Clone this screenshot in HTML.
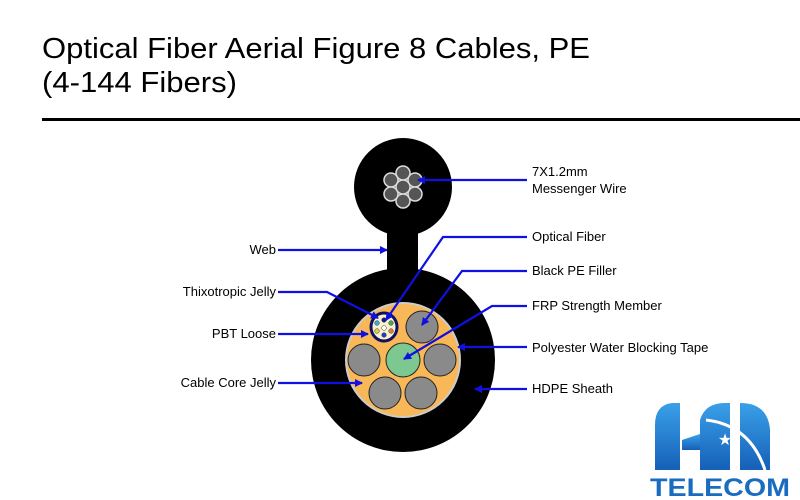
<!DOCTYPE html>
<html><head><meta charset="utf-8"><style>
html,body{margin:0;padding:0;background:#fff;width:800px;height:500px;overflow:hidden}
svg{display:block}
text{font-family:"Liberation Sans",Arial,sans-serif}
</style></head><body>
<svg width="800" height="500" viewBox="0 0 800 500" xmlns="http://www.w3.org/2000/svg">
<defs>
<marker id="a" markerWidth="8" markerHeight="8" refX="7" refY="4" orient="auto" markerUnits="userSpaceOnUse"><path d="M0,0 L8,4 L0,8 z" fill="#1010e0"/></marker>
<linearGradient id="g" x1="0" y1="0" x2="0" y2="1"><stop offset="0" stop-color="#3aa0e8"/><stop offset="1" stop-color="#1560b8"/></linearGradient>
</defs>
<text x="42" y="58" font-size="29" fill="#000" textLength="548" lengthAdjust="spacingAndGlyphs">Optical Fiber Aerial Figure 8 Cables, PE</text>
<text x="42" y="92" font-size="29" fill="#000" textLength="195" lengthAdjust="spacingAndGlyphs">(4-144 Fibers)</text>
<rect x="42" y="118" width="758" height="3" fill="#000"/>

<!-- cable -->
<circle cx="403" cy="187" r="49" fill="#000"/>
<rect x="387" y="225" width="31" height="60" fill="#000"/>
<circle cx="403" cy="360" r="92" fill="#000"/>
<g fill="#555" stroke="#ddd" stroke-width="1.5">
<circle cx="403" cy="173" r="7"/><circle cx="403" cy="201" r="7"/>
<circle cx="391" cy="180" r="7"/><circle cx="415" cy="180" r="7"/>
<circle cx="391" cy="194" r="7"/><circle cx="415" cy="194" r="7"/>
<circle cx="403" cy="187" r="7"/>
</g>
<circle cx="403" cy="360" r="57" fill="#f8b858" stroke="#ccc" stroke-width="2"/>
<g fill="#8a8a8a" stroke="#222" stroke-width="1">
<circle cx="422" cy="327" r="16"/><circle cx="440" cy="360" r="16"/>
<circle cx="421" cy="393" r="16"/><circle cx="385" cy="393" r="16"/>
<circle cx="364" cy="360" r="16"/>
</g>
<circle cx="403" cy="360" r="17" fill="#7cc890" stroke="#222" stroke-width="1"/>
<ellipse cx="384" cy="327" rx="13" ry="14" fill="#f8f0d0" stroke="#101060" stroke-width="3"/>
<g stroke="#333" stroke-width="0.5">
<circle cx="377" cy="323" r="2.3" fill="#30b0e0"/><circle cx="384" cy="320" r="2.3" fill="#1a1a80"/>
<circle cx="391" cy="323" r="2.3" fill="#40b040"/><circle cx="377" cy="331" r="2.3" fill="#e0d040"/>
<circle cx="384" cy="328" r="2.3" fill="#fff"/><circle cx="391" cy="331" r="2.3" fill="#e08030"/>
<circle cx="384" cy="335" r="2.3" fill="#1a40c0"/>
</g>

<!-- connectors -->
<g stroke="#1010e0" stroke-width="2.2" fill="none" marker-end="url(#a)">
<path d="M527,180 L418,180"/>
<path d="M527,237 L443,237 L386,320"/>
<path d="M527,271 L462,271 L422,325"/>
<path d="M527,306 L492,306 L404,359"/>
<path d="M527,347 L458,347"/>
<path d="M527,389 L475,389"/>
<path d="M278,250 L387,250"/>
<path d="M278,292 L327,292 L378,318"/>
<path d="M278,334 L368,334"/>
<path d="M278,383 L362,383"/>
</g>

<g font-size="13" fill="#000">
<text x="532" y="176">7X1.2mm</text>
<text x="532" y="193">Messenger Wire</text>
<text x="532" y="241">Optical Fiber</text>
<text x="532" y="275">Black PE Filler</text>
<text x="532" y="310">FRP Strength Member</text>
<text x="532" y="352">Polyester Water Blocking Tape</text>
<text x="532" y="393">HDPE Sheath</text>
<g text-anchor="end">
<text x="276" y="254">Web</text>
<text x="276" y="296">Thixotropic Jelly</text>
<text x="276" y="338">PBT Loose</text>
<text x="276" y="387">Cable Core Jelly</text>
</g>
</g>

<!-- logo -->
<g fill="url(#g)">
<path d="M655,470 L655,425 Q655,405 672,403 L680,403 L680,470 Z"/>
<path d="M700,470 L700,420 Q705,403 725,403 L730,403 L730,470 Z"/>
<path d="M740,470 L740,403 Q768,403 770,430 L770,470 Z"/>
<path d="M682,440 L700,434 L700,450 L682,450 Z" />
</g>
<path d="M706,420 Q750,425 765,470" stroke="#fff" stroke-width="3" fill="none"/>
<text x="725" y="445" font-size="16" fill="#fff" text-anchor="middle">★</text>
<text x="720" y="496" font-size="25" font-weight="bold" fill="#1a6cc0" text-anchor="middle" textLength="140" lengthAdjust="spacingAndGlyphs">TELECOM</text>
</svg>
</body></html>
